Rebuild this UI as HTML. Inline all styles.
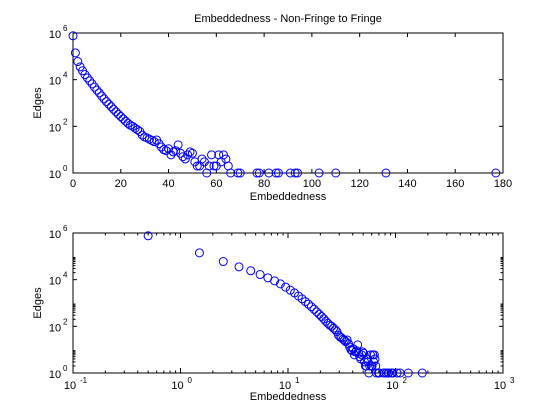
<!DOCTYPE html>
<html><head><meta charset="utf-8"><style>
html,body{margin:0;padding:0;background:#fff;}
svg{display:block;font-family:"Liberation Sans",sans-serif;}
</style></head><body>
<svg id="fig" width="560" height="420" viewBox="0 0 560 420" xmlns="http://www.w3.org/2000/svg">
<rect width="560" height="420" fill="#fff"/>
</svg>
<script>
const xs = [0,1,2,3,4,5,6,7,8,9,10,11,12,13,14,15,16,17,18,19,20,21,22,23,24,25,26,27,28,29,30,31,32,33,34,35,36,37,38,39,40,41,42,43,44,45,46,47,48,49,50,51,52,53,54,55,56,57,58,59,60,61,62,63,64,65,66,69,70,77,78,82,85,86,91,93,94,103,110,131,177];
const edges = [759000,141000,60000,35500,24000,16600,12000,8900,6600,4800,3550,2700,2000,1510,1150,890,690,537,417,331,263,209,166,135,112,100,83,71,60,42,35,32,28,25,22,26,18,13,10,9,11,6,8,9,16,7,5,4,6,8,7,3,2,2,4,3,1,2,6,2,2,6,3,6,4,2,1,1,1,1,1,1,1,1,1,1,1,1,1,1,1];
const topXTicks = [0,20,40,60,80,100,120,140,160,180];
const yDecades = [0,2,4,6];
const logXDecades = [-1,0,1,2,3];

const NS="http://www.w3.org/2000/svg";
const svg=document.getElementById('fig');
function el(tag,attrs,parent){const e=document.createElementNS(NS,tag);for(const k in attrs)e.setAttribute(k,attrs[k]);(parent||svg).appendChild(e);return e;}
const L=73,R=503;
const panels=[{top:33,bot:173,log:false,name:'top'},{top:233,bot:373,log:true,name:'bottom'}];
panels.forEach(p=>{
  const g=el('g',{});
  
  
  const sy=v=>p.bot-(Math.log10(v)-0)/6*(p.bot-p.top);
  const sx=p.log?(v=>L+(Math.log10(v)+1)/4*(R-L)):(v=>L+v/180*(R-L));
  // ticks
  const tk=(x,len)=>{el('line',{x1:x,y1:p.bot,x2:x,y2:p.bot-len,stroke:'#000','stroke-width':1},g);el('line',{x1:x,y1:p.top,x2:x,y2:p.top+len,stroke:'#000','stroke-width':1},g);};
  if(!p.log){
    topXTicks.forEach(t=>{const x=sx(t);tk(x,4);const tx=el('text',{x:x,y:p.bot+14,'font-size':11,'text-anchor':'middle'},g);tx.textContent=t;});
  } else {
    logXDecades.forEach(d=>{const x=sx(Math.pow(10,d));tk(x,5);
      const tx=el('text',{x:x-3,y:p.bot+16,'font-size':11,'text-anchor':'middle'},g);tx.textContent='10';
      const sp=el('text',{x:x+7,y:p.bot+10,'font-size':8},g);sp.textContent=String(d);
      if(d<3)for(let m=2;m<10;m++)tk(sx(m*Math.pow(10,d)),2.5);});
  }
  yDecades.forEach(d=>{const y=sy(Math.pow(10,d));
    el('line',{x1:L,y1:y,x2:L+4,y2:y,stroke:'#000'},g);el('line',{x1:R,y1:y,x2:R-4,y2:y,stroke:'#000'},g);
    const tx=el('text',{x:L-18,y:y+5,'font-size':11,'text-anchor':'middle'},g);tx.textContent='10';
    const sp=el('text',{x:L-10,y:y-2,'font-size':8},g);sp.textContent=String(d);
    if(p.log&&d<6)for(let m=2;m<10;m++){const yy=sy(m*Math.pow(10,d));el('line',{x1:L,y1:yy,x2:L+2.5,y2:yy,stroke:'#000'},g);el('line',{x1:R,y1:yy,x2:R-2.5,y2:yy,stroke:'#000'},g);}
  });
  const box=el('rect',{x:L,y:p.top,width:R-L,height:p.bot-p.top,fill:'none',stroke:'#000','stroke-width':1},g);
  
  xs.forEach((x,i)=>{const xv=p.log?x+0.5:x;
    const c=el('circle',{cx:sx(xv),cy:sy(edges[i]),r:4,fill:'none',stroke:'#0000ff','stroke-width':1},g);
    
    });
  const xl=el('text',{x:(L+R)/2,y:p.bot+27,'font-size':11,'text-anchor':'middle'},g);xl.textContent='Embeddedness';
  
  const yl=el('text',{x:0,y:0,'font-size':11,'text-anchor':'middle',transform:`translate(41,${(p.top+p.bot)/2}) rotate(-90)`},g);yl.textContent='Edges';
  
});
const t=el('text',{x:(L+R)/2,y:22,'font-size':11,'text-anchor':'middle'});t.textContent='Embeddedness - Non-Fringe to Fringe';

</script>
</body></html>
